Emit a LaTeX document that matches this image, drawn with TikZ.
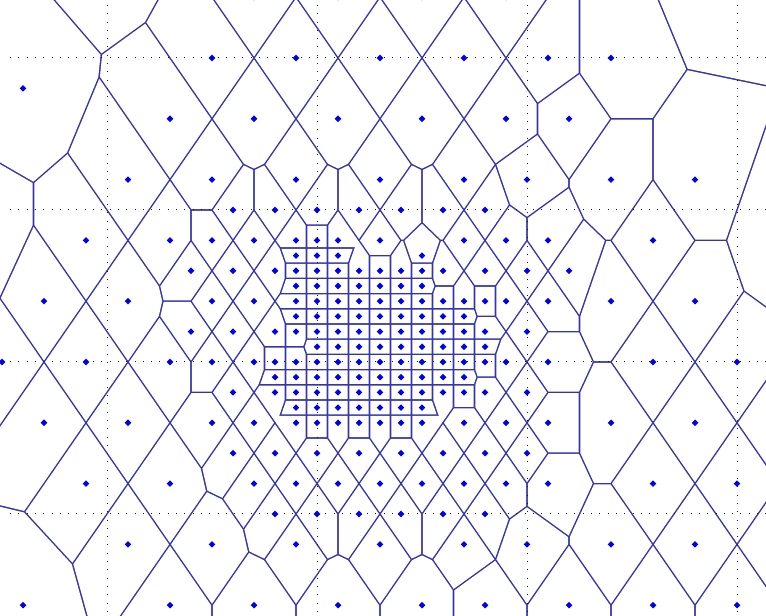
\documentclass[tikz,border=0pt]{standalone}
\usepackage{tikz}

\definecolor{edgec}{RGB}{52,52,172}
\definecolor{ptc}{RGB}{0,0,240}
\definecolor{dotc}{RGB}{30,30,30}

\newcount\np \np=0
\newcount\pp \newcount\qq \newcount\ta \newcount\tb \newcount\tc
\newcount\emin \newcount\vlim \newcount\plim
\newdimen\Lbig \Lbig=4000pt
\newdimen\LLbig \LLbig=8000pt
\newdimen\dl \dl=0.8pt
\newdimen\mx \newdimen\my \newdimen\cx \newdimen\cy
\newdimen\ax \newdimen\ay \newdimen\bx \newdimen\by
% metric: distance^2 ~ (dx/21)^2 + (dy/30.4)^2
\def\yw{21}

\def\addpt#1#2{\global\advance\np by 1
 \expandafter\xdef\csname vi@\the\np\endcsname{#1}%
 \expandafter\xdef\csname vj@\the\np\endcsname{#2}%
 \expandafter\xdef\csname vx@\the\np\endcsname{\the\dimexpr 107pt+21pt*#1\relax}%
 \expandafter\xdef\csname vy@\the\np\endcsname{\the\dimexpr 558pt-15.2pt*#2\relax}}
\def\prow#1#2{\foreach\ii in {#2}{\addpt{\ii}{#1}}}

\prow{-8}{0}
\prow{-6}{29}
\prow{-4}{7,11,15,19}
\prow{0}{5,9,13,17,21,24}
\prow{2}{-4}
\prow{4}{3,7,11,15,19,22}
\prow{8}{1,5,9,13,17,20,24,28}
\prow{10}{6,8,10,12,14,16,18}
\prow{12}{-6,-1,3,5,7,9,10,11,13,17,19,21,26,32}
\prow{13}{9,10,11,15}
\prow{14}{4,6,8,9,10,11,12,13,14,15,16,18,20,22}
\prow{15}{9,10,11,12,13,14,15}
\prow{16}{-3,1,5,7,9,10,11,12,13,14,15,16,17,18,19,21,24,28}
\prow{17}{9,10,11,12,13,14,15,16,17}
\prow{18}{4,6,8,9,10,11,12,13,14,15,16,17,18,20}
\prow{19}{10,11,12,13,14,15,16,17,18}
\prow{20}{-5,-1,3,5,7,8,9,10,11,12,13,14,15,16,17,18,19,21,26,30}
\prow{21}{8,9,10,11,12,13,14,15,16,17}
\prow{22}{6,8,9,10,11,12,13,14,15,16,17,18,20}
\prow{23}{9,10,11,12,13,14,15}
\prow{24}{-3,1,5,7,9,10,11,12,13,14,15,17,19,21,24,28,32}
\prow{26}{6,8,10,12,14,16,18,20}
\prow{28}{-1,3,7,9,11,13,15,17,19,21,26,30}
\prow{30}{8,10,12,14,16,18}
\prow{32}{1,5,9,13,17,20,24,28,32}
\prow{36}{-4,3,7,11,15,18,22,26,30}
\edef\N{\the\np}

% pass 1: nearest-neighbour (metric) squared distance of every point
\def\ebody{%
 \ifnum\qq=\pp\else
  \ta=\numexpr\csname vi@\the\qq\endcsname-\pival\relax
  \tb=\numexpr\csname vj@\the\qq\endcsname-\pjval\relax
  \tc=\numexpr4*\ta*\ta+\tb*\tb\relax
  \ifnum\tc<\emin \emin=\tc\fi
 \fi}
\def\eloop{\ifnum\qq>\np\else\ebody\advance\qq by 1 \expandafter\eloop\fi}
\def\passone{%
 \pp=1 \plim=\numexpr\np+1\relax
 \loop
  \emin=1000000
  \edef\pival{\csname vi@\the\pp\endcsname}%
  \edef\pjval{\csname vj@\the\pp\endcsname}%
  \qq=1 \eloop
  \expandafter\xdef\csname ve@\the\pp\endcsname{\the\emin}%
  \advance\pp by 1
 \ifnum\pp<\plim\repeat}
\passone

% pass 2: every cell, shrunk by half a line width, filled white
\def\setu#1#2{\def\ux{#1}\def\uy{#2}}
\def\addclip{%
 \expandafter\ifx\csname un@\the\ta @\the\tb\endcsname\relax
   \pgfmathsetmacro\tmpn{veclen(\the\ta*60.8,\the\tb*\yw)}%
   \pgfmathsetmacro\tux{(\the\ta)*60.8/\tmpn}%
   \pgfmathsetmacro\tuy{(\the\tb)*(-\yw)/\tmpn}%
   \expandafter\xdef\csname un@\the\ta @\the\tb\endcsname{{\tux}{\tuy}}%
 \fi
 \expandafter\expandafter\expandafter\setu\csname un@\the\ta @\the\tb\endcsname
 \mx=\dimexpr(\pxval+\csname vx@\the\qq\endcsname)/2\relax
 \my=\dimexpr(\pyval+\csname vy@\the\qq\endcsname)/2\relax
 \cx=\dimexpr\mx-\ux\dl\relax
 \cy=\dimexpr\my-\uy\dl\relax
 \ax=\dimexpr\cx-\uy\Lbig\relax
 \ay=\dimexpr\cy+\ux\Lbig\relax
 \bx=\dimexpr\cx+\uy\Lbig\relax
 \by=\dimexpr\cy-\ux\Lbig\relax
 \pgfpathmoveto{\pgfqpoint{\ax}{\ay}}%
 \pgfpathlineto{\pgfqpoint{\bx}{\by}}%
 \pgfpathlineto{\pgfqpoint{\dimexpr\cx-\ux\LLbig\relax}{\dimexpr\cy-\uy\LLbig\relax}}%
 \pgfpathclose
 \pgfusepath{clip}}
\def\dbody{%
 \ifnum\qq=\pp\else
  \ta=\numexpr\csname vi@\the\qq\endcsname-\pival\relax
  \tb=\numexpr\csname vj@\the\qq\endcsname-\pjval\relax
  \tc=\numexpr4*\ta*\ta+\tb*\tb\relax
  \vlim=\csname ve@\the\qq\endcsname\relax
  \ifnum\vlim<\peval\relax \vlim=\peval\relax\fi
  \multiply\vlim by 6
  \ifnum\tc>\vlim\else\ifnum\tc>0 \addclip\fi\fi
 \fi}
\def\dloop{\ifnum\qq>\np\else\dbody\advance\qq by 1 \expandafter\dloop\fi}
\def\passtwo{%
 \pp=1 \plim=\numexpr\np+1\relax
 \loop
  \edef\pival{\csname vi@\the\pp\endcsname}%
  \edef\pjval{\csname vj@\the\pp\endcsname}%
  \edef\pxval{\csname vx@\the\pp\endcsname}%
  \edef\pyval{\csname vy@\the\pp\endcsname}%
  \edef\peval{\csname ve@\the\pp\endcsname}%
  \pgfscope
  \qq=1 \dloop
  \pgfpathmoveto{\pgfqpoint{-10pt}{-10pt}}%
  \pgfpathlineto{\pgfqpoint{1600pt}{-10pt}}%
  \pgfpathlineto{\pgfqpoint{-10pt}{1300pt}}%
  \pgfpathclose
  \pgfusepath{fill}%
  \endpgfscope
  \advance\pp by 1
 \ifnum\pp<\plim\repeat}

\tikzset{gridline/.style={dotc,line width=1pt,dash pattern=on 1pt off 7.3pt}}

\begin{document}
\begin{tikzpicture}[x=1pt,y=1pt]
\useasboundingbox (0,0) rectangle (766,616);
\begin{scope}
\clip (0,0) rectangle (766,616);
\fill[edgec] (0,0) rectangle (766,616);
\begin{pgfinterruptboundingbox}
\pgfsetfillcolor{white}
\passtwo
\end{pgfinterruptboundingbox}
\foreach \yy in {558,406,254,102} \draw[gridline] (10,\yy) -- (766,\yy);
\foreach \xx in {107,317,527,737} \draw[gridline] (\xx,611) -- (\xx,0);
\foreach \k in {1,...,\N} {%
  \edef\tx{\csname vx@\k\endcsname}\edef\ty{\csname vy@\k\endcsname}%
  \fill[ptc] (\tx,\ty) ++(0,3.3) -- ++(3.3,-3.3) -- ++(-3.3,-3.3) -- ++(-3.3,3.3) -- cycle;
}
\end{scope}
\end{tikzpicture}
\end{document}
